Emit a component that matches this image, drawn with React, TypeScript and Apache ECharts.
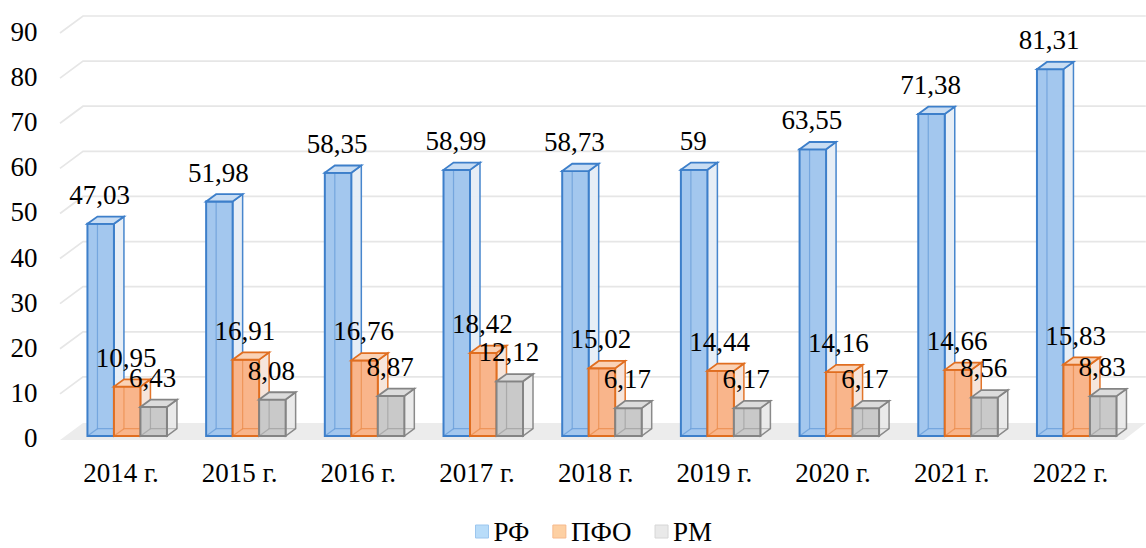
import React, { useEffect, useRef } from "react";
import * as echarts from "echarts";

const categories = ["2014 г.", "2015 г.", "2016 г.", "2017 г.", "2018 г.", "2019 г.", "2020 г.", "2021 г.", "2022 г."];
const seriesNames = ["РФ", "ПФО", "РМ"];
const rfValues = [47.03, 51.98, 58.35, 58.99, 58.73, 59, 63.55, 71.38, 81.31];
const pfoValues = [10.95, 16.91, 16.76, 18.42, 15.02, 14.44, 14.16, 14.66, 15.83];
const rmValues = [6.43, 8.08, 8.87, 12.12, 6.17, 6.17, 6.17, 8.56, 8.83];
const yTicks = [0, 10, 20, 30, 40, 50, 60, 70, 80, 90];

const FONT = "Liberation Serif";

const palettes = [
  { front: "#a3c7ee", top: "#c9ddf3", side: "#e6edf5", border: "#3d7fca", legend: "#b8dcf9", legendBorder: "#9cc6ee" },
  { front: "#f9b58b", top: "#fad2b6", side: "#f6e4d9", border: "#e06e20", legend: "#fdd0a3", legendBorder: "#f6b98c" },
  { front: "#c9c9c9", top: "#dcdcdc", side: "#e9e9e9", border: "#848484", legend: "#e9e9e9", legendBorder: "#d6d6d6" },
];

const fmt = (v: number) => String(v).replace(".", ",");

export default function App() {
  const ref = useRef<HTMLDivElement>(null);
  useEffect(() => {
    document.body.style.margin = "0";
    const chart = echarts.init(ref.current!, null, { renderer: "svg" });
    const allValues = [rfValues, pfoValues, rmValues];
    const DX = 10;
    const DY = -7.3;
    const W = 26.5;

    const barSeries = allValues.map((vals, s) => {
      const p = palettes[s];
      return {
        type: "custom",
        name: seriesNames[s],
        z: 3,
        itemStyle: { color: p.legend },
        data: vals.map((v, i) => [i, v]),
        encode: { x: 0, y: 1 },
        renderItem: (params: any, api: any) => {
          const ci = api.value(0);
          const v = api.value(1);
          const c = api.coord([ci, v]);
          const c0 = api.coord([ci, 0]);
          const x = c[0] - 33.5 + s * W;
          const top = c[1] - 2;
          const bot = c0[1] - 2;
          return {
            type: "group",
            children: [
              {
                type: "polygon",
                shape: { points: [[x + W, top], [x + W + DX, top + DY], [x + W + DX, bot + DY], [x + W, bot]] },
                style: { fill: p.side, stroke: p.border, lineWidth: 1.5, opacity: 0.95 },
              },
              {
                type: "rect",
                shape: { x, y: top, width: W, height: bot - top },
                style: { fill: p.front, stroke: null },
              },
              {
                type: "polyline",
                shape: { points: [[x + DX, top + DY], [x + DX, bot + DY], [x + W + DX, bot + DY]] },
                style: { fill: null, stroke: p.border, lineWidth: 1.2, opacity: 0.45 },
              },
              {
                type: "line",
                shape: { x1: x, y1: bot, x2: x + DX, y2: bot + DY },
                style: { stroke: p.border, lineWidth: 1.2, opacity: 0.45 },
              },
              {
                type: "rect",
                shape: { x, y: top, width: W, height: bot - top },
                style: { fill: null, stroke: p.border, lineWidth: 2 },
              },
              {
                type: "polygon",
                shape: { points: [[x, top], [x + DX, top + DY], [x + W + DX, top + DY], [x + W, top]] },
                style: { fill: p.top, stroke: p.border, lineWidth: 1.8 },
              },
              {
                type: "text",
                z2: 100,
                style: {
                  x: x + W / 2 - 1,
                  y: top - 29,
                  text: fmt(v),
                  align: "center",
                  verticalAlign: "middle",
                  fill: "#000",
                  fontFamily: FONT,
                  fontSize: 27,
                },
              },
            ],
          };
        },
      };
    });

    const gridSeries = {
      type: "custom",
      name: "grid3d",
      z: 1,
      silent: true,
      data: yTicks.map((v) => [0, v]),
      encode: { x: 0, y: 1 },
      renderItem: (params: any, api: any) => {
        const cs = params.coordSys;
        const v = api.value(1);
        const y = api.coord([0, v])[1];
        const xl = cs.x - 1.6;
        const xr = cs.x + cs.width + 16;
        if (v === 0) {
          return {
            type: "polygon",
            shape: { points: [[xl, y + 2], [xl + 23, y - 15], [xr, y - 15], [xr - 22, y + 2]] },
            style: { fill: "#ececec", stroke: null },
          };
        }
        return {
          type: "polyline",
          shape: { points: [[xl, y + 1], [xl + 23, y - 16], [xr, y - 16]] },
          style: { fill: null, stroke: "#e6e6e6", lineWidth: 1.7 },
        };
      },
    };

    chart.setOption({
      animation: false,
      backgroundColor: "#fff",
      textStyle: { fontFamily: FONT },
      grid: { left: 61.6, right: 16.2, top: 32, bottom: 110 },
      legend: {
        left: 475,
        top: 518,
        padding: 0,
        icon: "rect",
        itemWidth: 13,
        itemHeight: 13,
        itemGap: 23,
        textStyle: { fontFamily: FONT, fontSize: 27, lineHeight: 26, color: "#000" },
        data: seriesNames.map((n, s) => ({
          name: n,
          itemStyle: { color: palettes[s].legend, borderColor: palettes[s].legendBorder, borderWidth: 1 },
        })),
      },
      xAxis: {
        type: "category",
        data: categories,
        axisLine: { show: false },
        axisTick: { show: false },
        axisLabel: { fontFamily: FONT, fontSize: 27, color: "#000", margin: 21 },
      },
      yAxis: {
        type: "value",
        min: 0,
        max: 90,
        interval: 10,
        axisLine: { show: false },
        axisTick: { show: false },
        splitLine: { show: false },
        axisLabel: { fontFamily: FONT, fontSize: 27, color: "#000", margin: 24 },
      },
      series: [gridSeries, ...barSeries],
    });
    return () => chart.dispose();
  }, []);
  return <div ref={ref} style={{ width: 1146, height: 548 }} />;
}
